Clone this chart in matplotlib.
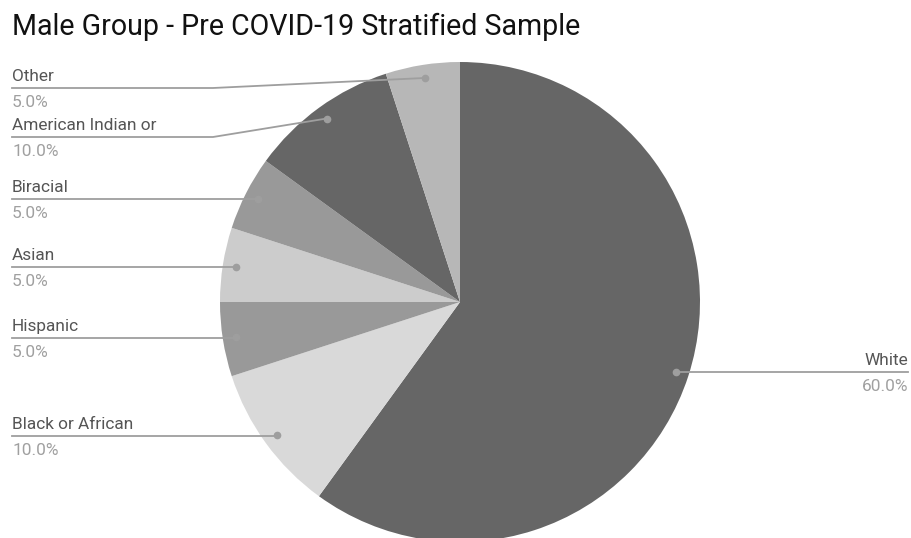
import numpy as np
import matplotlib.pyplot as plt

plt.rcParams['font.family'] = ['Roboto', 'DejaVu Sans']

# Sample composition, clockwise from 12 o'clock
groups = ['White', 'Black or African', 'Hispanic', 'Asian', 'Biracial',
          'American Indian or', 'Other']
shares = [60.0, 10.0, 5.0, 5.0, 5.0, 10.0, 5.0]
colors = ['#666666', '#d9d9d9', '#999999', '#cccccc', '#999999', '#666666', '#b7b7b7']

W, H = 911, 538
fig = plt.figure(figsize=(W / 100, H / 100), dpi=100)
ax = fig.add_axes([0, 0, 1, 1])

cx, cy, r = 460, H - 302, 240
wedges, _ = ax.pie(shares, colors=colors, startangle=90, counterclock=False,
                   center=(cx, cy), radius=r, frame=True,
                   wedgeprops=dict(linewidth=0))
ax.set_xlim(0, W)
ax.set_ylim(0, H)
ax.set_aspect('equal')
ax.axis('off')

# label line heights (pixel rows from top)
line_rows = {'White': 372, 'Black or African': 436, 'Hispanic': 338, 'Asian': 267,
             'Biracial': 199, 'American Indian or': 137, 'Other': 88}
line_col = '#9e9e9e'
fs = 12.4
for g, s, w in zip(groups, shares, wedges):
    mid = np.deg2rad((w.theta1 + w.theta2) / 2)
    dx, dy = cx + 0.945 * r * np.cos(mid), cy + 0.945 * r * np.sin(mid)
    ly = H - line_rows[g]
    ax.plot(dx, dy, 'o', color=line_col, ms=4.5, zorder=5)
    if dx > cx:
        ax.plot([dx, 908], [ly, ly], color=line_col, lw=1.3, zorder=4)
        ax.text(908, ly + 4, g, ha='right', va='bottom', fontsize=fs, color='#555555')
        ax.text(908, ly - 7, f'{s:.1f}%', ha='right', va='top', fontsize=fs, color='#a0a0a0')
    else:
        if abs(dy - ly) > 2:
            xs, ys = [12, 213, dx], [ly, ly, dy]
        else:
            xs, ys = [12, dx], [ly, ly]
        ax.plot(xs, ys, color=line_col, lw=1.3, zorder=4)
        ax.text(12, ly + 4, g, ha='left', va='bottom', fontsize=fs, color='#555555')
        ax.text(12, ly - 7, f'{s:.1f}%', ha='left', va='top', fontsize=fs, color='#a0a0a0')

ax.text(12, H - 27, 'Male Group - Pre COVID-19 Stratified Sample', ha='left', va='center',
        fontsize=20.6, color='#111111')

fig.savefig('out.png', dpi=100)
